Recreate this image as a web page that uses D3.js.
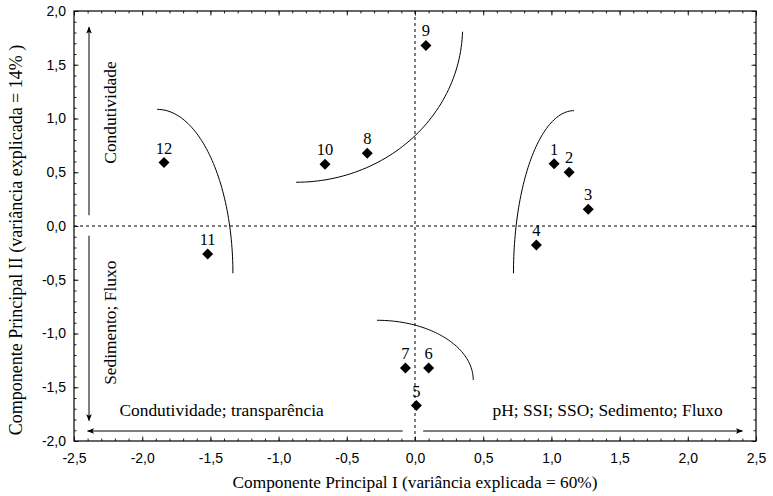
<!DOCTYPE html>
<meta charset="utf-8">
<style>
    body {margin: 0; background: #fff;}
    svg {font-family: 'Liberation Serif', 'Times New Roman', serif;}
    .tick text {font-family: 'Liberation Sans', Arial, sans-serif; font-size: 14px; fill: #000;}
    .domain {display: none;}
</style>
<svg width="773" height="496"></svg>
<script src="https://d3js.org/d3.v7.min.js"></script>
<script>

// site scores on the first two principal components
var sites = ["1", "2", "3", "4", "5", "6", "7", "8", "9", "10", "11", "12"];
var pc1 = [1.02, 1.13, 1.27, 0.89, 0.01, 0.10, -0.07, -0.35, 0.08, -0.66, -1.52, -1.84];
var pc2 = [0.58, 0.50, 0.155, -0.177, -1.67, -1.32, -1.32, 0.676, 1.68, 0.574, -0.26, 0.59];

// group outlines: quarter ellipses (centre, radii, angle range in degrees)
var arcCx = [-1.89, 1.166, -0.871, -0.278];
var arcCy = [-0.44, -0.44, 1.85, -1.433];
var arcRx = [0.555, 0.444, 1.22, 0.705];
var arcRy = [1.525, 1.513, 1.443, 0.556];
var arcFrom = [90, 90, -90, 90];
var arcTo = [0, 180, -1.7, 0];

// variable arrows (data units)
var arrowX1 = [-2.39, -2.39, -0.09, 0.06];
var arrowY1 = [0.10, -0.09, -1.907, -1.907];
var arrowX2 = [-2.39, -2.39, -2.40, 2.40];
var arrowY2 = [1.85, -1.81, -1.907, -1.907];

var noteText = ["Condutividade", "Sedimento; Fluxo", "Condutividade; transparência", "pH; SSI; SSO; Sedimento; Fluxo"];
var noteX = [-2.238, -2.24, -2.167, 0.569];
var noteY = [1.056, -0.90, -1.765, -1.77];
var noteRot = [true, true, false, false];

var xTicks = [-2.5, -2, -1.5, -1, -0.5, 0, 0.5, 1, 1.5, 2, 2.5];
var yTicks = [-2, -1.5, -1, -0.5, 0, 0.5, 1, 1.5, 2];

var svg = d3.select("svg");

var x = d3.scaleLinear().domain([-2.5, 2.5]).range([74, 756]);
var y = d3.scaleLinear().domain([-2, 2]).range([441, 11]);

var fmt = function(d) { return d3.format(".1f")(d).replace(".", ",").replace("−", "-"); };
var minorX = d3.range(-25, 26).map(function(i) { return i / 10; });
var minorY = d3.range(-20, 21).map(function(i) { return i / 10; });

svg.append("defs").append("marker")
    .attr("id", "head")
    .attr("viewBox", "0 -5 10 10")
    .attr("refX", 9)
    .attr("refY", 0)
    .attr("orient", "auto")
    .attr("markerUnits", "userSpaceOnUse")
    .attr("markerWidth", 9)
    .attr("markerHeight", 7)
    .append("path")
    .attr("d", "M0,-4L10,0L0,4L2,0Z")
    .attr("fill", "#000");

// minor ticks, all four sides, pointing inward
function minorAxis(axis, vals, tf) {
  svg.append("g").attr("transform", tf)
      .call(axis.tickValues(vals).tickSizeInner(-2.5).tickSizeOuter(0).tickFormat(""))
      .selectAll("line").attr("stroke", "#444");
}
minorAxis(d3.axisBottom(x), minorX, "translate(0,441)");
minorAxis(d3.axisTop(x), minorX, "translate(0,11)");
minorAxis(d3.axisLeft(y), minorY, "translate(74,0)");
minorAxis(d3.axisRight(y), minorY, "translate(756,0)");

// major ticks with labels
svg.append("g").attr("transform", "translate(0,441)")
    .call(d3.axisBottom(x).tickValues(xTicks).tickSizeInner(-4.5).tickSizeOuter(0).tickPadding(12).tickFormat(fmt));
svg.append("g").attr("transform", "translate(74,0)")
    .call(d3.axisLeft(y).tickValues(yTicks).tickSizeInner(-4.5).tickSizeOuter(0).tickPadding(8).tickFormat(fmt));
svg.append("g").attr("transform", "translate(0,11)")
    .call(d3.axisTop(x).tickValues(xTicks).tickSizeInner(-4.5).tickSizeOuter(0).tickFormat(""));
svg.append("g").attr("transform", "translate(756,0)")
    .call(d3.axisRight(y).tickValues(yTicks).tickSizeInner(-4.5).tickSizeOuter(0).tickFormat(""));
svg.selectAll(".tick line").attr("stroke", "#222");

// frame
svg.append("rect")
    .attr("x", x(-2.5)).attr("y", y(2))
    .attr("width", x(2.5) - x(-2.5)).attr("height", y(-2) - y(2))
    .attr("fill", "none").attr("stroke", "#000").attr("stroke-width", 1.2);

// zero lines
svg.append("line")
    .attr("x1", x(0)).attr("x2", x(0)).attr("y1", y(2)).attr("y2", y(-2))
    .attr("stroke", "#000").attr("stroke-dasharray", "3,3");
svg.append("line")
    .attr("x1", x(-2.5)).attr("x2", x(2.5)).attr("y1", y(0)).attr("y2", y(0))
    .attr("stroke", "#000").attr("stroke-dasharray", "3,3");

// group outlines
var line = d3.line()
    .x(function(p) { return x(p[0]); })
    .y(function(p) { return y(p[1]); });
arcCx.forEach(function(cx, i) {
  var pts = d3.range(0, 61).map(function(k) {
    var t = (arcFrom[i] + (arcTo[i] - arcFrom[i]) * k / 60) * Math.PI / 180;
    return [cx + arcRx[i] * Math.cos(t), arcCy[i] + arcRy[i] * Math.sin(t)];
  });
  svg.append("path").attr("d", line(pts))
      .attr("fill", "none").attr("stroke", "#000").attr("stroke-width", 1);
});

// arrows
arrowX1.forEach(function(v, i) {
  svg.append("line")
      .attr("x1", x(v)).attr("y1", y(arrowY1[i]))
      .attr("x2", x(arrowX2[i])).attr("y2", y(arrowY2[i]))
      .attr("stroke", "#000").attr("stroke-width", 1)
      .attr("marker-end", "url(#head)");
});

// annotations
noteText.forEach(function(t, i) {
  var tx = x(noteX[i]), ty = y(noteY[i]);
  var el = svg.append("text").text(t).style("font-size", "17.4px").attr("fill", "#000");
  if (noteRot[i]) {
    el.attr("transform", "translate(" + tx + "," + ty + ") rotate(-90)")
      .attr("text-anchor", "middle").attr("dy", "0.35em");
  } else {
    el.attr("x", tx).attr("y", ty);
  }
});

// points
svg.append("g").selectAll("path")
    .data(sites)
    .enter().append("path")
    .attr("d", "M0,-5.5L5.5,0L0,5.5L-5.5,0Z")
    .attr("transform", function(d, i) { return "translate(" + x(pc1[i]) + "," + y(pc2[i]) + ")"; })
    .attr("fill", "#000");

svg.append("g").selectAll("text")
    .data(sites)
    .enter().append("text")
    .attr("x", function(d, i) { return x(pc1[i]); })
    .attr("y", function(d, i) { return y(pc2[i]) - 9; })
    .attr("text-anchor", "middle")
    .style("font-size", "16.5px")
    .text(function(d) { return d; });

// axis titles
svg.append("text")
    .attr("x", x(0)).attr("y", 488)
    .attr("text-anchor", "middle")
    .style("font-size", "17.3px")
    .text("Componente Principal I (variância explicada = 60%)");
svg.append("text")
    .attr("transform", "translate(22," + 240 + ") rotate(-90)")
    .attr("text-anchor", "middle")
    .style("font-size", "18px")
    .text("Componente Principal II (variância explicada = 14% )");

</script>
